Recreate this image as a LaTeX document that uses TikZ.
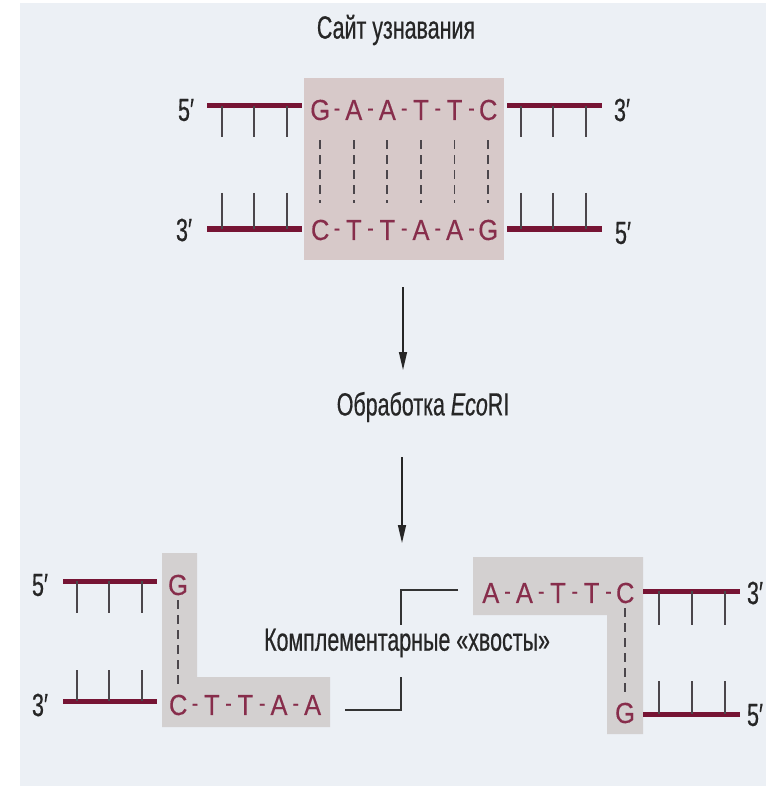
\documentclass[tikz,border=0pt]{standalone}
\usepackage{fontspec}
\setmainfont{Liberation Sans}[FakeStretch=0.67,FakeBold=0.5]
\newfontfamily\basefont{Liberation Sans}[FakeStretch=0.88,FakeBold=0.3]
\usetikzlibrary{arrows.meta}
\definecolor{bg}{RGB}{236,240,245}
\definecolor{boxpink}{RGB}{215,201,201}
\definecolor{boxgray}{RGB}{211,208,208}
\definecolor{strand}{RGB}{118,20,52}
\definecolor{basec}{RGB}{135,45,75}
\definecolor{tickc}{RGB}{75,70,75}
\newcommand\bl[1]{\makebox[33.6pt]{#1}}
\newcommand\hy{\makebox[0pt]{\fontsize{22}{24}\selectfont\raisebox{4.5pt}{-}}}
\begin{document}
\begin{tikzpicture}[x=1pt,y=-1pt,
  lbl/.style={font=\fontsize{32}{34}\selectfont, text=black!85, inner sep=0pt},
  basech/.style={font=\basefont\fontsize{29}{30}\selectfont, text=basec, inner sep=0pt},
  seqnode/.style={basech, anchor=west},
  strandline/.style={draw=strand, line width=5pt},
  tickline/.style={draw=tickc, line width=2pt},
  hbond/.style={draw=tickc, line width=1.8pt, dash pattern=on 9pt off 6pt},
  arr/.style={draw=black!85, line width=1.4pt, -{Triangle[length=18pt,width=8pt]}},
  brk/.style={draw=black!80, line width=1.6pt},
]
\useasboundingbox (0,0) rectangle (766,786);
\fill[white] (0,0) rectangle (766,786);
\fill[bg] (20,3) rectangle (766,786);

% ---------- top: recognition site ----------
\node[lbl] (title) at (396,30) {Сайт узнавания};
\fill[boxpink] (304,78) rectangle (504,260);

\node[seqnode] (tseq) at (303.2,110) {\bl{G}\hy\bl{A}\hy\bl{A}\hy\bl{T}\hy\bl{T}\hy\bl{C}};
\node[seqnode] (bseq) at (303.2,230) {\bl{C}\hy\bl{T}\hy\bl{T}\hy\bl{A}\hy\bl{A}\hy\bl{G}};
\foreach \i in {0,...,5}
  \draw[hbond] ([xshift={16.8pt+33.6pt*\i}, yshift=-19.6pt]tseq.south west)
            -- ([xshift={16.8pt+33.6pt*\i}, yshift=16.6pt]bseq.north west);

\node[lbl] (tl5) at (186,110) {5′};
\node[lbl] (tr3) at (622,110) {3′};
\node[lbl] (bl3) at (184,230) {3′};
\node[lbl] (br5) at (623,233) {5′};

\coordinate (tlA) at (207,106); \coordinate (tlB) at (302,106);
\coordinate (trA) at (507,106); \coordinate (trB) at (602,106);
\coordinate (blA) at (207,229); \coordinate (blB) at (302,229);
\coordinate (brA) at (507,229); \coordinate (brB) at (602,229);
\draw[strandline] (tlA) -- (tlB);
\draw[strandline] (trA) -- (trB);
\draw[strandline] (blA) -- (blB);
\draw[strandline] (brA) -- (brB);
\foreach \x in {222,254,287,521,553,586}{
  \draw[tickline] (\x,106) -- (\x,137);
  \draw[tickline] (\x,193) -- (\x,229);
}

% ---------- arrows ----------
\coordinate (a1s) at (403,287); \coordinate (a1e) at (403,370);
\node[lbl] (treat) at (423,407) {Обработка \textit{Eco}RI};
\coordinate (a2s) at (402,457); \coordinate (a2e) at (402,543);
\draw[arr] (a1s) -- (a1e);
\draw[arr] (a2s) -- (a2e);

% ---------- bottom left fragment ----------
\fill[boxgray] (162,553) -- (197,553) -- (197,677) -- (330,677) -- (330,727) -- (162,727) -- cycle;
\node[lbl] (ll5) at (40,585) {5′};
\node[lbl] (ll3) at (40,705) {3′};
\node[basech] (lg) at (178,585) {G};
\node[seqnode] (lseq) at (161.2,705) {\bl{C}\hy\bl{T}\hy\bl{T}\hy\bl{A}\hy\bl{A}};
\draw[hbond, shorten <=5pt, shorten >=5pt] (lg.south) -- ([xshift=16.8pt]lseq.north west);
\coordinate (lsA) at (63,581); \coordinate (lsB) at (157,581);
\coordinate (lbA) at (63,701); \coordinate (lbB) at (157,701);
\draw[strandline] (lsA) -- (lsB);
\draw[strandline] (lbA) -- (lbB);
\foreach \x in {77,109,142}{
  \draw[tickline] (\x,581) -- (\x,613);
  \draw[tickline] (\x,670) -- (\x,701);
}

% ---------- bottom right fragment ----------
\fill[boxgray] (473,557) -- (643,557) -- (643,734) -- (607,734) -- (607,615) -- (473,615) -- cycle;
\node[seqnode] (rseq) at (473.8,593) {\bl{A}\hy\bl{A}\hy\bl{T}\hy\bl{T}\hy\bl{C}};
\node[basech] (rg) at (625,713) {G};
\draw[hbond, shorten <=5pt, shorten >=5pt] ([xshift=151.2pt]rseq.south west) -- (rg.north);
\node[lbl] (rr3) at (755,593) {3′};
\node[lbl] (rr5) at (755,715) {5′};
\coordinate (rsA) at (643,591); \coordinate (rsB) at (740,591);
\coordinate (rbA) at (643,714); \coordinate (rbB) at (740,714);
\draw[strandline] (rsA) -- (rsB);
\draw[strandline] (rbA) -- (rbB);
\foreach \x in {659,692,725}{
  \draw[tickline] (\x,591) -- (\x,625);
  \draw[tickline] (\x,681) -- (\x,714);
}

% ---------- complementary tails bracket ----------
\node[lbl] (tails) at (407,643) {Комплементарные «хвосты»};
\coordinate (k1) at (458,590); \coordinate (k2) at (401,590); \coordinate (k3) at (401,625);
\coordinate (k4) at (345,710); \coordinate (k5) at (401,710); \coordinate (k6) at (401,677);
\draw[brk] (k1) -- (k2) -- (k3);
\draw[brk] (k4) -- (k5) -- (k6);
\end{tikzpicture}
\end{document}
